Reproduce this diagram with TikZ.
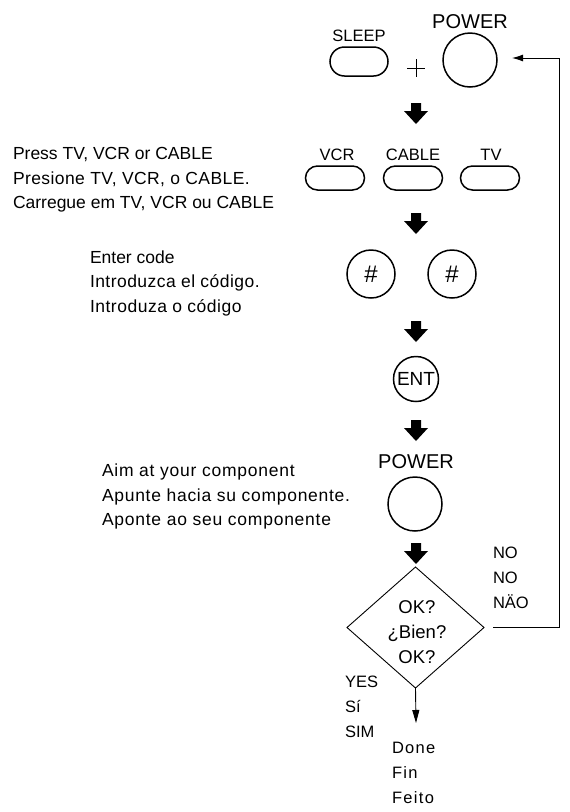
\documentclass[tikz,border=0pt]{standalone}
\usepackage{fontspec}
\setmainfont{Liberation Sans}
\usetikzlibrary{shapes.geometric,arrows.meta}
\tikzset{
  every node/.style={inner sep=0pt, outer sep=0pt},
  pill/.style={draw, line width=1.5pt, minimum width=59pt, minimum height=24pt, rounded corners=12pt},
  btn/.style={draw, line width=1.5pt, circle},
  btnlbl/.style={anchor=base, font=\fontsize{16.5}{18}\selectfont},
  bigbtnlbl/.style={anchor=base, font=\fontsize{20}{22}\selectfont},
  note/.style={anchor=base west, font=\fontsize{17.5}{20}\selectfont\addfontfeatures{LetterSpace=#1}},
  note/.default=0,
  small/.style={anchor=base west, font=\fontsize{16.5}{18}\selectfont\addfontfeatures{LetterSpace=#1}},
  small/.default=0,
  dtext/.style={anchor=base, font=\fontsize{18.5}{20}\selectfont},
  blockarrow/.pic={\fill (-5,0) -- (5,0) -- (5,8) -- (12,8) -- (0,21) -- (-12,8) -- (-5,8) -- cycle;},
  thin/.style={line width=0.9pt}
}
\begin{document}
\begin{tikzpicture}[x=1pt,y=-1pt]
\useasboundingbox (0,0) rectangle (570,812);
% Step 1
\node[pill, minimum width=58pt, minimum height=29pt, rounded corners=14.5pt] (sleep) at (359,61.5) {};
\node[btnlbl] (sleepl) at (359,41) {SLEEP};
\draw[line width=0.6pt] (407,68) -- (425,68) (416,59) -- (416,77);
\node[btn, minimum size=54pt] (pow1) at (470,60) {};
\node[bigbtnlbl] (pow1l) at (470,28) {POWER};
\pic at (416,103) {blockarrow};
% Step 2
\node[pill] (vcr) at (335,178) {};
\node[btnlbl] (vcrl) at (337,160) {VCR};
\node[pill] (cable) at (413,178) {};
\node[btnlbl] (cablel) at (413,160) {CABLE};
\node[pill] (tv) at (490,178) {};
\node[btnlbl] (tvl) at (491,160) {TV};
\node[note] (p1) at (13,159) {Press TV, VCR or CABLE};
\node[note=2.4] (p2) at (13,184) {Presione TV, VCR, o CABLE.};
\node[note] (p3) at (13,208) {Carregue em TV, VCR ou CABLE};
\pic at (416,213) {blockarrow};
% Step 3
\node[btn, minimum size=48pt] (h1) at (371,274) {};
\node[anchor=center, font=\fontsize{24}{26}\selectfont] (h1t) at (h1) {\#};
\node[btn, minimum size=48pt] (h2) at (452,274) {};
\node[anchor=center, font=\fontsize{24}{26}\selectfont] (h2t) at (h2) {\#};
\node[note] (e1) at (90,263) {Enter code};
\node[note=2.6] (e2) at (90,287) {Introduzca el código.};
\node[note=2.9] (e3) at (90,312) {Introduza o código};
\pic at (416,321) {blockarrow};
% Step 4
\node[btn, minimum size=45pt] (ent) at (416,379) {};
\node[anchor=center, font=\fontsize{19}{21}\selectfont] (entt) at (ent) {ENT};
\pic at (416,420) {blockarrow};
% Step 5
\node[bigbtnlbl] (pow2l) at (416,468) {POWER};
\node[btn, minimum size=54pt] (pow2) at (415,504) {};
\node[note=4.3] (a1) at (102,476) {Aim at your component};
\node[note=4.1] (a2) at (102,501) {Apunte hacia su componente.};
\node[note=4.3] (a3) at (102,525) {Aponte ao seu componente};
\pic at (416,543) {blockarrow};
% Decision
\node[draw, thin, diamond, minimum width=137pt, minimum height=121pt] (dia) at (415.5,627.5) {};
\node[dtext] (d1) at (417,613) {OK?};
\node[dtext] (d2) at (417,638) {¿Bien?};
\node[dtext] (d3) at (417,663) {OK?};
\node[small] (n1) at (493,558) {NO};
\node[small] (n2) at (493,583) {NO};
\node[small] (n3) at (493,608) {NÄO};
\node[small] (y1) at (345,687) {YES};
\node[small] (y2) at (345,712) {Sí};
\node[small] (y3) at (345,737) {SIM};
\node[small=8] (f1) at (392,753) {Done};
\node[small=8] (f2) at (392,778) {Fin};
\node[small=8] (f3) at (392,803) {Feito};
% connectors
\coordinate (loopS) at (493,627.5);
\coordinate (loopR) at (559,627.5);
\coordinate (loopT) at (559,58);
\coordinate (loopE) at (512,58);
\draw[thin, -{Latex[length=11pt,width=7pt]}] (loopS) -- (loopR) -- (loopT) -- (loopE);
\coordinate (doneA) at (416,723);
\draw[thin, -{Triangle[length=13pt,width=7pt]}] (dia.south) -- (doneA);
\end{tikzpicture}
\end{document}
